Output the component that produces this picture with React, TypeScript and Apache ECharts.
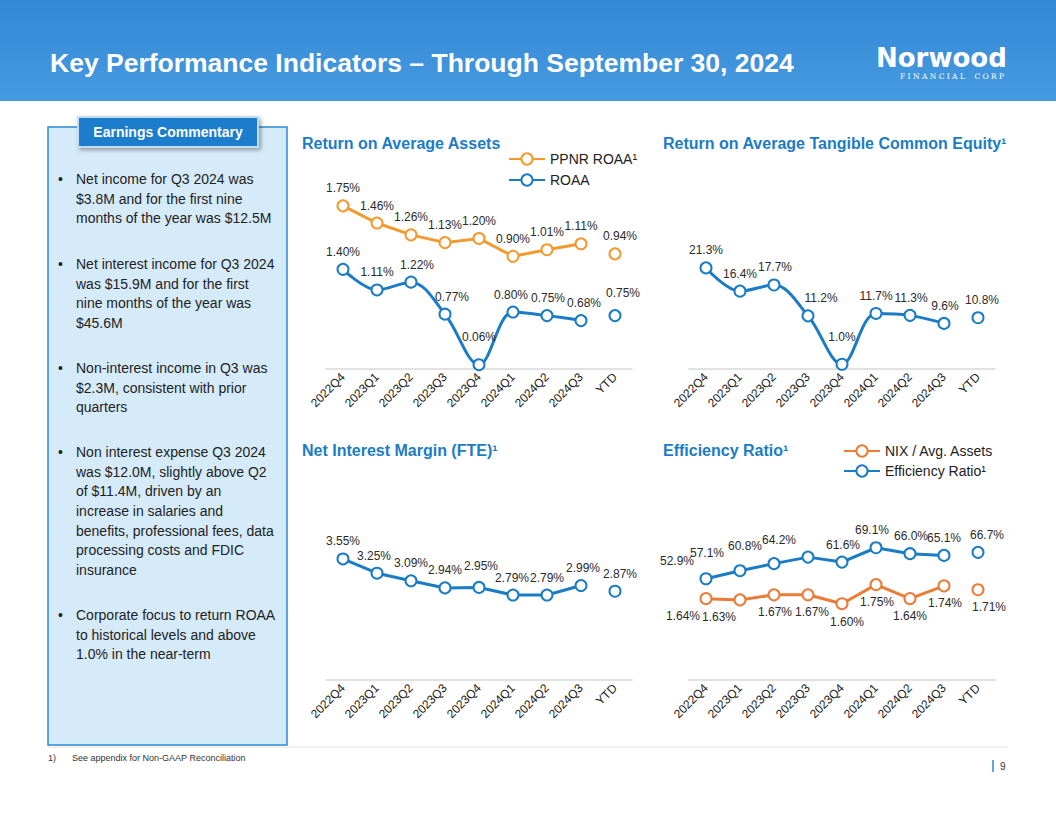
import React, { useEffect, useRef } from "react";
import * as echarts from "echarts";

const categories = ["2022Q4", "2023Q1", "2023Q2", "2023Q3", "2023Q4", "2024Q1", "2024Q2", "2024Q3", "YTD"];

const ppnrRoaa = [1.75, 1.46, 1.26, 1.13, 1.2, 0.9, 1.01, 1.11];
const ppnrRoaaYtd = 0.94;
const roaa = [1.4, 1.11, 1.22, 0.77, 0.06, 0.8, 0.75, 0.68];
const roaaYtd = 0.75;
const roatce = [21.3, 16.4, 17.7, 11.2, 1.0, 11.7, 11.3, 9.6];
const roatceYtd = 10.8;
const nim = [3.55, 3.25, 3.09, 2.94, 2.95, 2.79, 2.79, 2.99];
const nimYtd = 2.87;
const effRatio = [52.9, 57.1, 60.8, 64.2, 61.6, 69.1, 66.0, 65.1];
const effRatioYtd = 66.7;
const nixAssets = [1.64, 1.63, 1.67, 1.67, 1.6, 1.75, 1.64, 1.74];
const nixAssetsYtd = 1.71;

const bullets = [
  ["Net income for Q3 2024 was", "$3.8M and for the first nine", "months of the year was $12.5M"],
  ["Net interest income for Q3 2024", "was $15.9M and for the first", "nine months of the year was", "$45.6M"],
  ["Non-interest income in Q3 was", "$2.3M, consistent with prior", "quarters"],
  ["Non interest expense Q3 2024", "was $12.0M, slightly above Q2", "of $11.4M, driven by an", "increase in salaries and", "benefits, professional fees, data", "processing costs and FDIC", "insurance"],
  ["Corporate focus to return ROAA", "to historical levels and above", "1.0% in the near-term"],
];

// label nudges (styling only)
const ppnrShift: number[][] = [[0, 0], [0, 0], [0, 0], [0, 0], [0, 0], [0, 0], [0, 0], [0, 0], [5, 0]];
const roaaShift: number[][] = [[0, 0], [0, 0], [6, 0], [7, 0], [0, -10], [-2, 0], [1, 0], [3, 0], [8, -5]];
const roatceShift: number[][] = [[0, 0], [0, 0], [1, 0], [13, 0], [0, -10], [0, 0], [1, 0], [1, 0], [4, 0]];
const nimShift: number[][] = [[0, 0], [-3, 0], [0, 0], [0, 0], [2, -4], [-1, 0], [0, 0], [2, 0], [5, 0]];
const effShift: number[][] = [[-29, 0], [-33, 0], [-29, 0], [-29, 0], [1, 0], [-4, 0], [1, 0], [0, 0], [9, 0]];
const nixShift: number[][] = [[-23, 0], [-21, 0], [1, 0], [4, 0], [5, 1], [1, 0], [0, 0], [1, 0], [11, 0]];

const BLUE = "#1b7cc6";
const ORANGE = "#f39a2e";
const ORANGE2 = "#ea7c38";
const FONT = "'Liberation Sans', Arial, sans-serif";

function App() {
  const ref = useRef<HTMLDivElement>(null);
  useEffect(() => {
    document.body.style.margin = "0";
    if (!ref.current) return;
    const chart = echarts.init(ref.current, null, { renderer: "svg" });

    const mk = (
      name: string,
      vals: number[],
      ytd: number,
      xi: number,
      yi: number,
      color: string,
      dec: number,
      pos: string,
      shift: number[][],
      smooth: number | boolean
    ) => {
      const fmt = (p: any) => Number(p.value).toFixed(dec) + "%";
      const base = {
        name,
        type: "line",
        xAxisIndex: xi,
        yAxisIndex: yi,
        symbol: "circle",
        symbolSize: 11,
        smooth,
        showAllSymbol: true,
        lineStyle: { color, width: 3 },
        itemStyle: { color: "#ffffff", borderColor: color, borderWidth: 2 },
        label: {
          show: true,
          position: pos,
          distance: 5,
          formatter: fmt,
          fontFamily: FONT,
          fontSize: 12,
          color: "#2a2a2a",
        },
        emphasis: { disabled: true },
      };
      const main = vals.map((v, i) => ({ value: v, label: { offset: shift[i] } }));
      const mainData: any[] = [...main, "-"];
      const ytdData: any[] = vals.map(() => "-");
      ytdData.push({ value: ytd, label: { offset: shift[8] } });
      return [
        { ...base, data: mainData },
        { ...base, data: ytdData },
      ];
    };

    const grids = [
      { left: 326, top: 191, width: 306, height: 178 },
      { left: 689, top: 191, width: 306, height: 178 },
      { left: 326, top: 502, width: 306, height: 178 },
      { left: 689, top: 502, width: 306, height: 178 },
    ];

    const xAxis = grids.map((_, i) => ({
      type: "category",
      gridIndex: i,
      data: categories,
      boundaryGap: true,
      axisLine: { show: true, lineStyle: { color: "#d9d9d9", width: 1.5 } },
      axisTick: { show: false },
      axisLabel: {
        rotate: 45,
        margin: 6,
        fontFamily: FONT,
        fontSize: 12,
        color: "#222222",
        interval: 0,
      },
    }));

    const yBase = { type: "value", show: false, splitLine: { show: false } };
    const yAxis = [
      { ...yBase, gridIndex: 0, min: 0, max: 2.5 },
      { ...yBase, gridIndex: 0, min: -1, max: 2 },
      { ...yBase, gridIndex: 1, min: 0, max: 37.5 },
      { ...yBase, gridIndex: 2, min: 1, max: 4.75 },
      { ...yBase, gridIndex: 3, min: 0, max: 93 },
      { ...yBase, gridIndex: 3, min: 1, max: 2.4 },
    ];

    const series = [
      ...mk("PPNR ROAA¹", ppnrRoaa, ppnrRoaaYtd, 0, 1, ORANGE, 2, "top", ppnrShift, false),
      ...mk("ROAA", roaa, roaaYtd, 0, 0, BLUE, 2, "top", roaaShift, 0.35),
      ...mk("ROATCE", roatce, roatceYtd, 1, 2, BLUE, 1, "top", roatceShift, 0.35),
      ...mk("NIM", nim, nimYtd, 2, 3, BLUE, 2, "top", nimShift, false),
      ...mk("NIX / Avg. Assets", nixAssets, nixAssetsYtd, 3, 5, ORANGE2, 2, "bottom", nixShift, false),
      ...mk("Efficiency Ratio¹", effRatio, effRatioYtd, 3, 4, BLUE, 1, "top", effShift, false),
    ];

    const legendBase = {
      orient: "vertical",
      itemWidth: 36,
      itemHeight: 14,
      textStyle: { fontFamily: FONT, fontSize: 14, color: "#222222" },
      selectedMode: false,
    };

    const chartTitle = (text: string, x: number, y: number) => ({
      type: "text",
      x,
      y,
      style: {
        text,
        fill: "#1b7cc6",
        font: `bold 16px ${FONT}`,
        textVerticalAlign: "middle",
      },
    });

    const bulletTops = [169, 254, 358, 442, 605];
    const bulletEls: any[] = [];
    bullets.forEach((lines, i) => {
      bulletEls.push({
        type: "text",
        x: 58,
        y: bulletTops[i],
        style: { text: "•", fill: "#222", font: `14px ${FONT}`, lineHeight: 19.7, textVerticalAlign: "top" },
      });
      bulletEls.push({
        type: "text",
        x: 76,
        y: bulletTops[i],
        style: {
          text: lines.join("\n"),
          fill: "#222",
          font: `14px ${FONT}`,
          lineHeight: 19.7,
          textVerticalAlign: "top",
        },
      });
    });

    const option: any = {
      animation: false,
      backgroundColor: "#ffffff",
      grid: grids,
      xAxis,
      yAxis,
      series,
      legend: [
        { ...legendBase, left: 503, top: 147, itemGap: 7, data: ["PPNR ROAA¹", "ROAA"] },
        { ...legendBase, left: 838, top: 439, itemGap: 6, data: ["NIX / Avg. Assets", "Efficiency Ratio¹"] },
      ],
      graphic: [
        {
          type: "rect",
          shape: { x: 0, y: 0, width: 1056, height: 101 },
          style: {
            fill: new echarts.graphic.LinearGradient(0, 0, 0, 1, [
              { offset: 0, color: "#3488d6" },
              { offset: 1, color: "#469ae0" },
            ]),
          },
          z: -10,
        },
        {
          type: "text",
          x: 50,
          y: 63,
          style: {
            text: "Key Performance Indicators – Through September 30, 2024",
            fill: "#ffffff",
            font: `bold 26.5px ${FONT}`,
            textVerticalAlign: "middle",
          },
        },
        {
          type: "text",
          x: 876,
          y: 58,
          style: {
            text: "Norwood",
            fill: "#ffffff",
            font: `bold 26px 'DejaVu Sans', ${FONT}`,
            textVerticalAlign: "middle",
          },
        },
        {
          type: "text",
          x: 900,
          y: 76,
          style: {
            text: "F I N A N C I A L    C O R P",
            fill: "#ffffff",
            font: `7.5px 'DejaVu Serif', serif`,
            textVerticalAlign: "middle",
          },
        },
        {
          type: "rect",
          shape: { x: 48, y: 127, width: 239, height: 618 },
          style: { fill: "#d6ebfa", stroke: "#2b8ad3", lineWidth: 1.5 },
        },
        {
          type: "rect",
          shape: { x: 78, y: 117, width: 180, height: 30 },
          style: {
            fill: "#1d7dcd",
            stroke: "#c3def4",
            lineWidth: 2,
            shadowBlur: 4,
            shadowOffsetX: 2,
            shadowOffsetY: 2,
            shadowColor: "rgba(0,0,0,0.35)",
          },
        },
        {
          type: "text",
          x: 168,
          y: 132,
          style: {
            text: "Earnings Commentary",
            fill: "#ffffff",
            font: `bold 14px ${FONT}`,
            textAlign: "center",
            textVerticalAlign: "middle",
          },
        },
        ...bulletEls,
        chartTitle("Return on Average Assets", 302, 143),
        chartTitle("Return on Average Tangible Common Equity¹", 663, 143),
        chartTitle("Net Interest Margin (FTE)¹", 302, 450),
        chartTitle("Efficiency Ratio¹", 663, 450),
        {
          type: "line",
          shape: { x1: 48, y1: 747, x2: 1008, y2: 747 },
          style: { stroke: "#e7e1d9", lineWidth: 1 },
        },
        {
          type: "text",
          x: 48,
          y: 758,
          style: { text: "1)", fill: "#333", font: `9px ${FONT}`, textVerticalAlign: "middle" },
        },
        {
          type: "text",
          x: 72,
          y: 758,
          style: {
            text: "See appendix for Non-GAAP Reconciliation",
            fill: "#333",
            font: `9px ${FONT}`,
            textVerticalAlign: "middle",
          },
        },
        {
          type: "line",
          shape: { x1: 993, y1: 760, x2: 993, y2: 772 },
          style: { stroke: "#2b8ad3", lineWidth: 1.5 },
        },
        {
          type: "text",
          x: 1000,
          y: 766,
          style: { text: "9", fill: "#333", font: `10px ${FONT}`, textVerticalAlign: "middle" },
        },
      ],
    };

    chart.setOption(option);
    return () => chart.dispose();
  }, []);

  return <div ref={ref} style={{ width: 1056, height: 816 }} />;
}

export default App;
